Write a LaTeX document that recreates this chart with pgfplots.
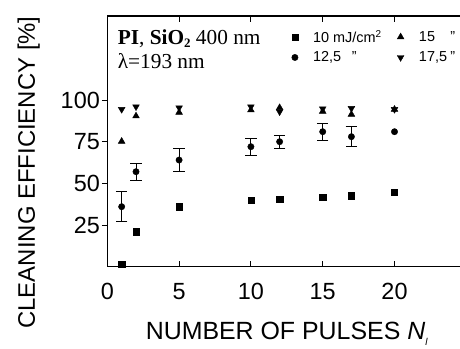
\documentclass[border=0pt]{standalone}
\usepackage{pgfplots}
\pgfplotsset{compat=1.18}
\usepackage{fontspec}
\setmainfont{Liberation Sans}
\newfontfamily\timesfont{Liberation Serif}
\pgfplotsset{mylegend/.style={legend image code/.code={\draw[##1] plot coordinates {(0bp,0bp)};}}}
\begin{document}
\begin{tikzpicture}
\useasboundingbox (-107.3bp,-82.3bp) rectangle (352.7bp,266.7bp);
\clip (-107.3bp,-82.3bp) rectangle (352.7bp,266.7bp);
\begin{axis}[
  at={(0,0)}, anchor=south west,
  x=14.36bp, y=1.6667bp,
  xmin=0, xmax=25, ymin=0, ymax=150.4,
  xtick={0,5,10,15,20}, ytick={25,50,75,100},
  xtick pos=both, xticklabel pos=lower, ytick pos=left,
  tick align=inside,
  major tick length=5.5bp,
  every tick/.style={black, line width=1bp},
  y tick style={xshift=-5.5bp},
  axis line style={line width=1.1bp},
  /pgf/number format/assume math mode=true,
  tick label style={font=\fontsize{23.5}{28}\selectfont},
  xticklabel style={anchor=north, inner sep=0pt, yshift=-16.3bp},
  yticklabel style={anchor=east, inner sep=0pt, xshift=-7.3bp},
  xlabel={NUMBER OF PULSES \textit{N}\raisebox{-6bp}{\fontsize{10}{10}\selectfont\textit{l}}},
  xlabel style={at={(axis description cs:0.5,-0.2924)}, anchor=base, inner sep=0pt, font=\fontsize{25}{30}\selectfont},
  ylabel={CLEANING EFFICIENCY [\%]},
  ylabel style={at={(axis description cs:-0.2014,0.3758)}, anchor=base, inner sep=0pt, font=\fontsize{24}{29}\selectfont},
  legend columns=2, transpose legend,
  legend cell align=left,
  legend style={at={(axis cs:12.83,142.0)}, anchor=north west, draw=none, fill=none, inner sep=0pt,
    font=\fontsize{14.5}{17}\selectfont, row sep=8bp,
    nodes={inner sep=0pt},
    /tikz/every odd column/.append style={column sep=15bp},
    /tikz/every even column/.append style={column sep=16bp}},
]
\addplot[mylegend, only marks, mark=square*, mark size=3.2, black] coordinates {
(1,1.5) (2,21) (5,36) (10,40) (12,40.6) (15,41.8) (17,42.6) (20,44.6)};
\addlegendentry{10 mJ/cm\raisebox{5bp}{\fontsize{10}{10}\selectfont 2}}

\addplot[mylegend, only marks, mark=*, mark size=3.2, black,
  error bars/.cd, y dir=both, y explicit,
  error mark options={rotate=90, mark size=5.8, line width=0.9bp, black},
  error bar style={line width=0.9bp, black}]
  table[x=x, y=y, y error=e] {
x y e
1 36 9
2 57 5
5 64 7
10 72 5
12 75 4
15 81 5
17 78 6
};
\addlegendentry{\makebox[38.7bp][l]{12,5}"}

\addplot[mylegend, only marks, mark=triangle*, mark size=3.9, black] coordinates {
(1,75.2) (2,90.4) (5,92.6) (10,94) (12,95.4) (15,93.2) (17,91.4) (20,94.4)};
\addlegendentry{\makebox[31.3bp][l]{15}"}

\addplot[mylegend, only marks, mark=triangle*, mark size=3.9, mark options={rotate=180}, black] coordinates {
(1,94.4) (2,96) (5,95.4) (10,96) (12,93) (15,94.8) (17,95) (20,94.4)};
\addlegendentry{\makebox[31.3bp][l]{17,5}"}

\addplot[only marks, mark=*, mark size=3.2, black, forget plot] coordinates {(20,81)};

\node[anchor=base west, inner sep=0pt, font=\timesfont\fontsize{21.4}{25}\selectfont] at (axis cs:0.72,133.4)
  {\textbf{PI}, \textbf{SiO\raisebox{-3.5bp}{\fontsize{13}{13}\selectfont 2}} 400 nm};
\node[anchor=base west, inner sep=0pt, font=\timesfont\fontsize{21.4}{25}\selectfont] at (axis cs:0.72,119.0)
  {λ=193 nm};
\end{axis}
\end{tikzpicture}
\end{document}
